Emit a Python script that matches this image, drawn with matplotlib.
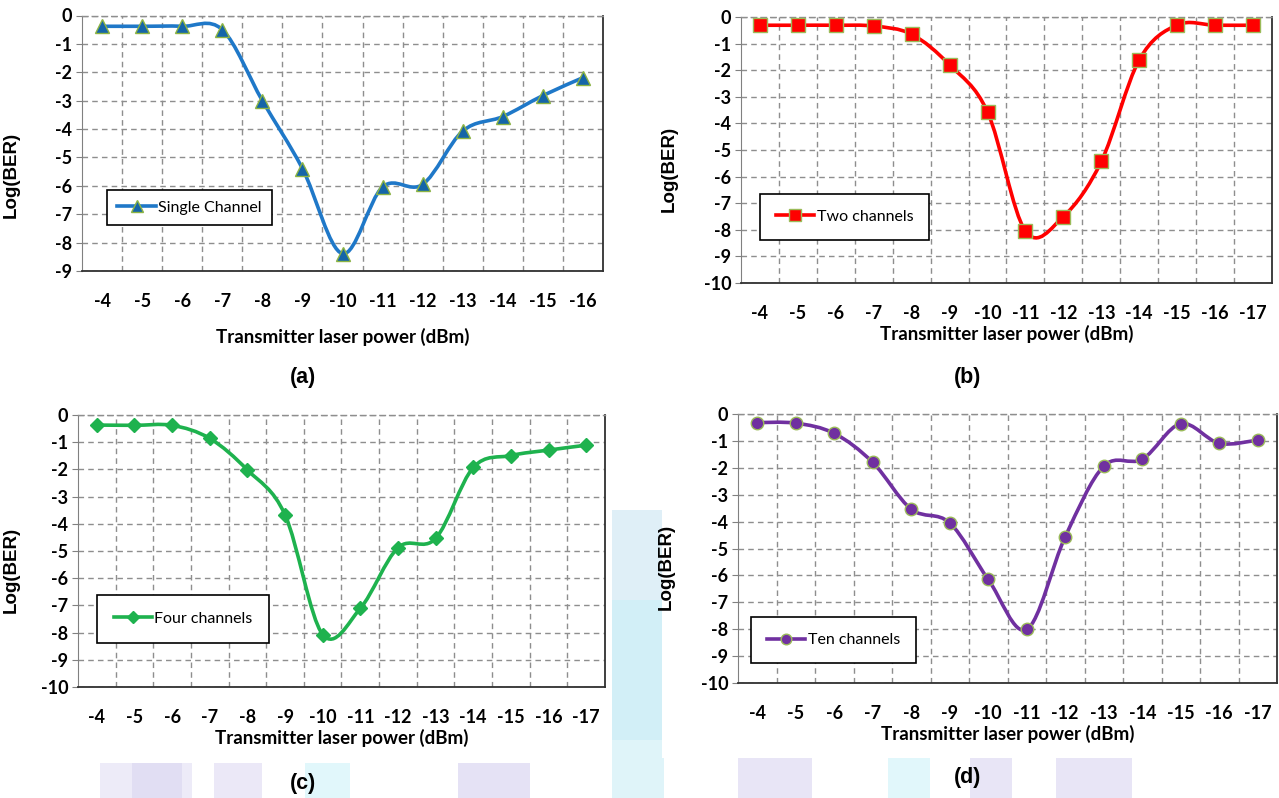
import numpy as np
import matplotlib
matplotlib.use("Agg")
from matplotlib import pyplot as plt
from matplotlib.path import Path
from matplotlib.patches import PathPatch, Rectangle
from matplotlib.lines import Line2D

plt.rcParams['axes.unicode_minus'] = False

# transmitter laser power (dBm) categories
power_a = [-4, -5, -6, -7, -8, -9, -10, -11, -12, -13, -14, -15, -16]
power_bcd = [-4, -5, -6, -7, -8, -9, -10, -11, -12, -13, -14, -15, -16, -17]

# Log(BER)
ber_single = [-0.38, -0.38, -0.38, -0.50, -3.00, -5.39, -8.39, -6.04, -5.95, -4.07, -3.56, -2.82, -2.19]
ber_two = [-0.31, -0.31, -0.31, -0.34, -0.65, -1.80, -3.57, -8.05, -7.50, -5.43, -1.61, -0.30, -0.31, -0.31]
ber_four = [-0.37, -0.38, -0.38, -0.86, -2.02, -3.67, -8.07, -7.11, -4.88, -4.54, -1.93, -1.49, -1.29, -1.11]
ber_ten = [-0.32, -0.34, -0.72, -1.80, -3.54, -4.05, -6.15, -8.01, -4.56, -1.94, -1.68, -0.36, -1.09, -0.97]

W, H = 1279, 798
fig = plt.figure(figsize=(W/100, H/100), dpi=100)
fig.patch.set_facecolor('white')

TICKFONT = dict(family='Lato', weight='bold', size=13)
GRID = dict(color='#8e8e8e', linestyle=(0, (4, 3)), linewidth=1)


def fr(x0, y0, x1, y1):
    # pixel box (top-down) -> figure fraction rect
    return [x0/W, 1 - y1/H, (x1-x0)/W, (y1-y0)/H]


def smooth_path(x, y):
    # excel style smoothed line: bezier through the points
    x = np.asarray(x, float)
    y = np.asarray(y, float)
    xp = np.concatenate([[x[0]], x, [x[-1]]])
    yp = np.concatenate([[y[0]], y, [y[-1]]])
    verts = [(x[0], y[0])]
    codes = [Path.MOVETO]
    for i in range(len(x) - 1):
        c1 = (x[i] + (xp[i+2] - xp[i])/6, y[i] + (yp[i+2] - yp[i])/6)
        c2 = (x[i+1] - (xp[i+3] - xp[i+1])/6, y[i+1] - (yp[i+3] - yp[i+1])/6)
        verts += [c1, c2, (x[i+1], y[i+1])]
        codes += [Path.CURVE4]*3
    return Path(verts, codes)


def panel(box, power, ber, ymin, color, mfc, mec, marker, ms, label,
          leg_xy, leg_pad, ylab_xy, xlabpad):
    ax = fig.add_axes(fr(*box))
    n = len(power)
    xs = np.arange(n)
    ax.add_patch(PathPatch(smooth_path(xs, ber), facecolor='none', edgecolor=color,
                           lw=2.6, capstyle='round', joinstyle='round', zorder=3))
    ax.plot(xs, ber, linestyle='none', marker=marker, ms=ms, mfc=mfc, mec=mec,
            mew=1.0, zorder=4)
    ax.set_xlim(-0.5, n - 0.5)
    ax.set_ylim(ymin, 0)
    ax.set_xticks(xs)
    ax.set_xticklabels([str(p) for p in power], fontdict=TICKFONT)
    ax.set_xticks(np.arange(0.5, n - 1, 1), minor=True)
    yt = list(range(ymin, 1))
    ax.set_yticks(yt)
    ax.set_yticklabels([str(v) for v in yt], fontdict=TICKFONT)
    ax.tick_params(axis='x', which='both', length=0, pad=16)
    ax.tick_params(axis='y', length=4, color='#808080', pad=3)
    ax.grid(axis='y', which='major', **GRID)
    ax.grid(axis='x', which='minor', **GRID)
    ax.set_axisbelow(True)
    ax.spines['top'].set_linestyle((0, (4, 3)))
    ax.spines['top'].set_color('#8e8e8e')
    ax.spines['top'].set_linewidth(1)
    ax.spines['left'].set_color('#808080')
    for s in ['right', 'bottom']:
        ax.spines[s].set_color('#303030')
        ax.spines[s].set_linewidth(1.3)
    ax.set_xlabel('Transmitter laser power (dBm)', family='Lato', weight='bold',
                  size=13.5, labelpad=xlabpad)
    ax.set_ylabel('Log(BER)', family='Liberation Sans', weight='bold', size=13.5)
    ax.yaxis.set_label_coords(*ylab_xy)
    handle = Line2D([], [], color=color, lw=2.6, marker=marker, ms=ms*0.85,
                    mfc=mfc, mec=mec, mew=1.0)
    leg = ax.legend([handle], [label], loc='upper left', bbox_to_anchor=leg_xy,
                    borderaxespad=0, fancybox=False, framealpha=1, edgecolor='black',
                    prop=dict(family='Lato', size=11.5), handlelength=2.4,
                    handletextpad=0.15, borderpad=leg_pad, numpoints=1)
    leg.get_frame().set_linewidth(1.2)
    leg.set_zorder(5)
    return ax


# faint watermark behind the lower panels
def wm(x0, y0, x1, y1, c, a=0.4):
    fig.add_artist(Rectangle((x0/W, 1-y1/H), (x1-x0)/W, (y1-y0)/H, transform=fig.transFigure,
                             facecolor=c, edgecolor='none', alpha=a, zorder=-3))


lav = '#cdc6ec'
cyan = '#c4f0f8'
wm(100, 740, 192, 798, lav, 0.35)
wm(132, 740, 182, 798, lav, 0.35)
wm(214, 740, 262, 798, lav, 0.4)
wm(305, 740, 350, 798, cyan, 0.5)
wm(458, 740, 530, 798, lav, 0.5)
wm(738, 740, 812, 798, lav, 0.45)
wm(888, 740, 930, 798, cyan, 0.5)
wm(970, 740, 1012, 798, lav, 0.45)
wm(1056, 740, 1132, 798, lav, 0.45)
wm(612, 510, 664, 798, '#d8ebf6', 0.8)
wm(612, 600, 664, 798, cyan, 0.45)
wm(612, 740, 664, 798, '#e8f8fb', 0.6)
fig.add_artist(Rectangle((0, 1-763/H), 610/W, 363/H, transform=fig.transFigure,
                         facecolor='white', edgecolor='none', zorder=-2))
fig.add_artist(Rectangle((662/W, 1-758/H), (W-662)/W, 358/H, transform=fig.transFigure,
                         facecolor='white', edgecolor='none', zorder=-2))

panel((82, 15.5, 603, 271), power_a, ber_single, -9, '#1f78c8', '#1565a8', '#8db443', '^', 10,
      'Single Channel', (0.048, 0.317), 0.65, (-0.119, 0.375), 13)
panel((741, 17, 1272, 283), power_bcd, ber_two, -10, '#ff0000', '#ff0000', '#9bbb59', 's', 10,
      'Two channels', (0.036, 0.335), 1.0, (-0.12, 0.427), 2)
panel((78, 415, 605, 687), power_bcd, ber_four, -10, '#1eb24e', '#1eb24e', '#1eb24e', 'D', 7,
      'Four channels', (0.036, 0.338), 1.05, (-0.111, 0.43), 2)
panel((738, 414, 1277, 683), power_bcd, ber_ten, -10, '#7030a0', '#7030a0', '#9bbb59', 'o', 9,
      'Ten channels', (0.024, 0.245), 1.0, (-0.117, 0.43), 2)

for tag, x, y in [('(a)', 303, 378), ('(b)', 968, 378), ('(c)', 303, 783), ('(d)', 968, 778)]:
    fig.text(x/W, 1 - y/H, tag, ha='center', va='center', family='Liberation Sans',
             weight='bold', size=15.5)

fig.savefig('out.png', dpi=100)
